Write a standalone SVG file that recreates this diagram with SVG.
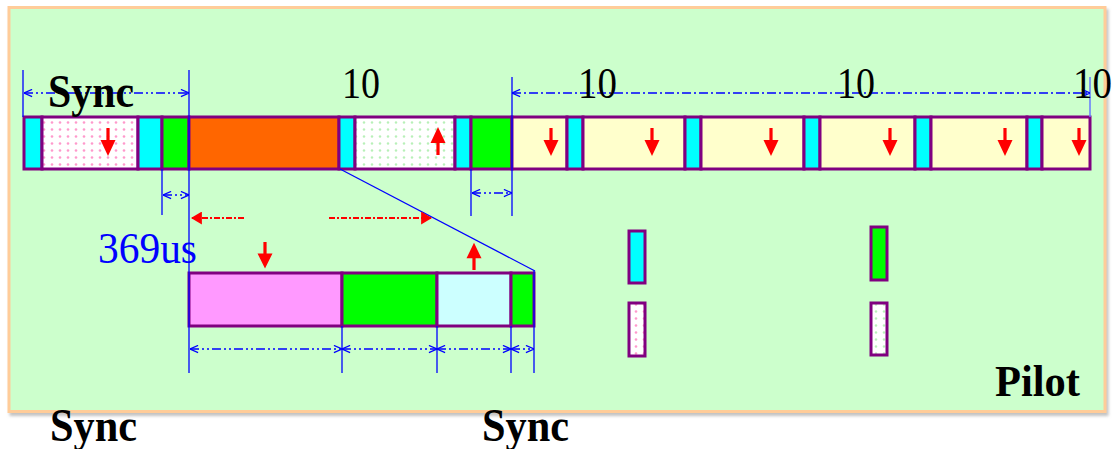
<svg xmlns="http://www.w3.org/2000/svg" width="1119" height="449" viewBox="0 0 1119 449">
  <style>
    .seg { stroke: #800080; stroke-width: 3; }
    .cyan { fill: #00FFFF; }
    .green { fill: #00FF00; }
    .yellow { fill: #FFFFCC; }
    .orange { fill: #FF6600; }
    .pinkfill { fill: #FF99FF; }
    .lcyan { fill: #CCFFFF; }
    .ext { stroke: #0000FF; stroke-width: 1.3; fill: none; }
    .dim { stroke: #0000FF; stroke-width: 1.5; fill: none; stroke-dasharray: 9 3 2 3 2 3; marker-start: url(#chev); marker-end: url(#chev); }
    .dim2 { stroke: #0000FF; stroke-width: 1.5; fill: none; stroke-dasharray: 9 3 2 3; marker-start: url(#chev); marker-end: url(#chev); }
    .redline { stroke: #FF0000; stroke-width: 2.2; fill: none; stroke-dasharray: 6 2 2 2; }
    .big { font-family: "Liberation Serif", "Times New Roman", serif; font-weight: bold; fill: #000; }
    .num { font-family: "Liberation Serif", "Times New Roman", serif; fill: #000; }
  </style>
  <defs>
    <pattern id="pinkDots" width="8" height="7" patternUnits="userSpaceOnUse">
      <rect width="8" height="7" fill="#FFFFFF"/>
      <circle cx="4" cy="3.5" r="1.3" fill="#FF99CC"/>
    </pattern>
    <pattern id="greenDots" width="8" height="7" patternUnits="userSpaceOnUse">
      <rect width="8" height="7" fill="#FFFFFF"/>
      <circle cx="4" cy="3.5" r="1.2" fill="#B8F0B8"/>
    </pattern>
    <marker id="chev" viewBox="0 0 10 10" refX="10" refY="5" markerWidth="9" markerHeight="9" markerUnits="userSpaceOnUse" orient="auto-start-reverse">
      <path d="M1,1 L10,5 L1,9" fill="none" stroke="#0000FF" stroke-width="1.4"/>
    </marker>
    <marker id="redHead" viewBox="0 0 10 10" refX="9" refY="5" markerWidth="11" markerHeight="13" markerUnits="userSpaceOnUse" orient="auto-start-reverse" preserveAspectRatio="none">
      <path d="M0,0 L10,5 L0,10 Z" fill="#FF0000"/>
    </marker>
    <path id="downArrow" d="M-1.6,0 H1.6 V12 H7.5 L0,28 L-7.5,12 H-1.6 Z" fill="#FF0000"/>
    <filter id="shadow" x="-2%" y="-2%" width="104%" height="106%">
      <feDropShadow dx="2" dy="3" stdDeviation="1.5" flood-color="#999999" flood-opacity="0.6"/>
    </filter>
  </defs>

  <!-- backdrop panel -->
  <rect x="9" y="7.5" width="1096" height="404" fill="#CCFFCC" stroke="#FFCC99" stroke-width="3" filter="url(#shadow)"/>

  <!-- top frame: sync, guard, data and pilot slots -->
  <g id="frame">
    <rect id="slot-c1" class="seg cyan" x="24" y="117" width="18" height="52"/>
    <rect id="slot-down" class="seg" fill="url(#pinkDots)" x="42" y="117" width="96" height="52"/>
    <rect id="slot-c2" class="seg cyan" x="138" y="117" width="24" height="52"/>
    <rect id="slot-g1" class="seg green" x="162" y="117" width="27" height="52"/>
    <rect id="slot-orange" class="seg orange" x="189" y="117" width="150" height="52"/>
    <rect id="slot-c3" class="seg cyan" x="339" y="117" width="16" height="52"/>
    <rect id="slot-up" class="seg" fill="url(#greenDots)" x="355" y="117" width="100" height="52"/>
    <rect id="slot-c4" class="seg cyan" x="455" y="117" width="16" height="52"/>
    <rect id="slot-g2" class="seg green" x="471" y="117" width="41" height="52"/>
    <rect id="slot-y1" class="seg yellow" x="512" y="117" width="55" height="52"/>
    <rect id="slot-c5" class="seg cyan" x="567" y="117" width="16" height="52"/>
    <rect id="slot-y2" class="seg yellow" x="583" y="117" width="102" height="52"/>
    <rect id="slot-c6" class="seg cyan" x="685" y="117" width="16" height="52"/>
    <rect id="slot-y3" class="seg yellow" x="701" y="117" width="103" height="52"/>
    <rect id="slot-c7" class="seg cyan" x="804" y="117" width="16" height="52"/>
    <rect id="slot-y4" class="seg yellow" x="820" y="117" width="95" height="52"/>
    <rect id="slot-c8" class="seg cyan" x="915" y="117" width="16" height="52"/>
    <rect id="slot-y5" class="seg yellow" x="931" y="117" width="96" height="52"/>
    <rect id="slot-c9" class="seg cyan" x="1027" y="117" width="15" height="52"/>
    <rect id="slot-y6" class="seg yellow" x="1042" y="117" width="48" height="52"/>
  </g>

  <!-- expanded subframe -->
  <g id="subframe">
    <rect id="sub-pink" class="seg pinkfill" x="189" y="273" width="153" height="53"/>
    <rect id="sub-g1" class="seg green" x="342" y="273" width="95" height="53"/>
    <rect id="sub-lc" class="seg lcyan" x="437" y="273" width="74" height="53"/>
    <rect id="sub-g2" class="seg green" x="511" y="273" width="23" height="53"/>
  </g>

  <!-- legend swatches -->
  <g id="legend-cyan"><rect class="seg cyan" x="629" y="231" width="16" height="52"/></g>
  <g id="legend-pink"><rect class="seg" fill="url(#pinkDots)" x="629" y="303" width="16" height="53"/></g>
  <g id="legend-green"><rect class="seg green" x="871" y="227" width="16" height="53"/></g>
  <g id="legend-white"><rect class="seg" fill="url(#greenDots)" x="871" y="303" width="16" height="52"/></g>

  <!-- direction arrows -->
  <g id="dir-arrows">
    <use href="#downArrow" x="108" y="128"/>
    <use href="#downArrow" transform="translate(438,155) scale(1,-1)"/>
    <use href="#downArrow" x="551" y="128"/>
    <use href="#downArrow" x="652" y="128"/>
    <use href="#downArrow" x="771" y="128"/>
    <use href="#downArrow" x="890" y="128"/>
    <use href="#downArrow" x="1005" y="128"/>
    <use href="#downArrow" x="1079" y="128"/>
    <use href="#downArrow" transform="translate(265,242) scale(1,0.95)"/>
    <use href="#downArrow" transform="translate(474,270) scale(1,-0.97)"/>
  </g>

  <!-- connectors: extension lines, dimensions, zoom line -->
  <g id="connectors">
    <line class="ext" x1="23" y1="70" x2="23" y2="117"/>
    <line class="ext" x1="189" y1="70" x2="189" y2="373"/>
    <line class="ext" x1="162" y1="169" x2="162" y2="215"/>
    <line class="ext" x1="471" y1="169" x2="471" y2="216"/>
    <line class="ext" x1="512" y1="77" x2="512" y2="216"/>
    <line x1="1090" y1="77" x2="1090" y2="117" stroke="#6677FF" stroke-width="1.5"/>
    <line class="ext" x1="342" y1="326" x2="342" y2="373"/>
    <line class="ext" x1="437" y1="326" x2="437" y2="373"/>
    <line class="ext" x1="511" y1="326" x2="511" y2="373"/>
    <line class="ext" x1="534" y1="271" x2="534" y2="373"/>

    <line class="dim" x1="24" y1="93" x2="189" y2="93"/>
    <line class="dim2" x1="512" y1="93" x2="1090" y2="93"/>
    <line class="dim" x1="163" y1="195" x2="189" y2="195"/>
    <line class="dim" x1="472" y1="193" x2="512" y2="193"/>
    <line class="dim" x1="190" y1="349" x2="342" y2="349"/>
    <line class="dim" x1="342" y1="349" x2="437" y2="349"/>
    <line class="dim" x1="437" y1="349" x2="511" y2="349"/>
    <line class="dim" x1="511" y1="349" x2="534" y2="349"/>

    <line x1="340" y1="169" x2="535" y2="271" stroke="#0000FF" stroke-width="1.3"/>

    <line class="redline" x1="244" y1="218" x2="192" y2="218" marker-end="url(#redHead)"/>
    <line class="redline" x1="329" y1="218" x2="431" y2="218" marker-end="url(#redHead)"/>
  </g>

  <!-- labels -->
  <g id="labels">
    <text class="big" x="48" y="107" font-size="46" textLength="86" lengthAdjust="spacingAndGlyphs">Sync</text>
    <text class="num" x="342" y="98" font-size="45" textLength="38" lengthAdjust="spacingAndGlyphs">10</text>
    <text class="num" x="578" y="98" font-size="45" textLength="39" lengthAdjust="spacingAndGlyphs">10</text>
    <text class="num" x="837" y="98" font-size="45" textLength="38" lengthAdjust="spacingAndGlyphs">10</text>
    <text class="num" x="1073" y="98" font-size="45" textLength="39" lengthAdjust="spacingAndGlyphs">10</text>
    <text x="98" y="263" font-family="Liberation Serif, Times New Roman, serif" font-size="45" fill="#0000FF" textLength="99" lengthAdjust="spacingAndGlyphs">369us</text>
    <text class="big" x="995" y="396" font-size="44" textLength="85" lengthAdjust="spacingAndGlyphs">Pilot</text>
    <text class="big" x="50" y="441" font-size="46" textLength="87" lengthAdjust="spacingAndGlyphs">Sync</text>
    <text class="big" x="482" y="441" font-size="46" textLength="87" lengthAdjust="spacingAndGlyphs">Sync</text>
  </g>
</svg>
